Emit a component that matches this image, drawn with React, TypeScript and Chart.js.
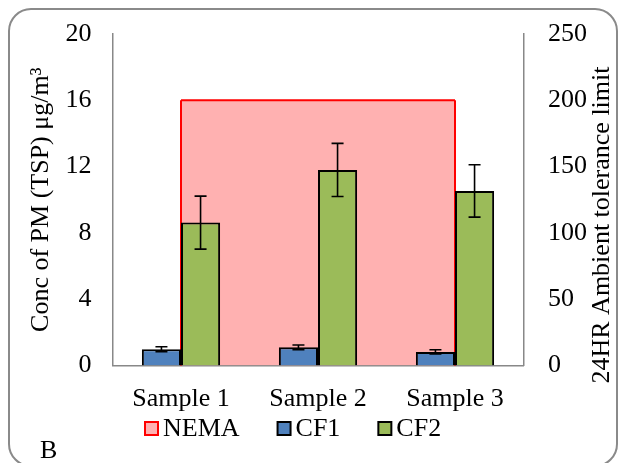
import React, { useEffect, useRef } from "react";
import { Chart, registerables } from "chart.js";

Chart.register(...registerables);

// ---- data ----
const categories = ["Sample 1", "Sample 2", "Sample 3"];
const nemaLimit = [200, 200, 200];
const cf1Values = [0.98, 1.1, 0.82];
const cf1Errors = [0.15, 0.14, 0.13];
const cf2Values = [8.62, 11.8, 10.53];
const cf2Errors = [1.6, 1.6, 1.58];
const leftTicks = [0, 4, 8, 12, 16, 20];
const rightTicks = [0, 50, 100, 150, 200, 250];
const leftTitle = "Conc of PM (TSP) μg/m³";
const rightTitle = "24HR Ambient tolerance limit";
const panelLabel = "B";

const FONT = "'Liberation Serif', 'Times New Roman', serif";
const errorMap: Record<string, number[]> = { CF1: cf1Errors, CF2: cf2Errors };

const areaEdges = {
  id: "areaEdges",
  afterDatasetDraw(chart: any, args: any) {
    const ds = chart.data.datasets[args.index];
    if (ds.label !== "NEMA") return;
    const pts = args.meta.data;
    if (!pts.length) return;
    const scale = chart.scales[args.meta.yAxisID];
    const y0 = scale.getPixelForValue(0);
    const ctx = chart.ctx;
    ctx.save();
    ctx.strokeStyle = ds.borderColor;
    ctx.lineWidth = ds.borderWidth;
    ctx.beginPath();
    const a = pts[0];
    const b = pts[pts.length - 1];
    ctx.moveTo(a.x, a.y);
    ctx.lineTo(a.x, y0);
    ctx.moveTo(b.x, b.y);
    ctx.lineTo(b.x, y0);
    ctx.stroke();
    ctx.restore();
  },
};

const errorBars = {
  id: "errorBars",
  afterDatasetsDraw(chart: any) {
    const ctx = chart.ctx;
    chart.data.datasets.forEach((ds: any, i: number) => {
      const errs = errorMap[ds.label];
      if (!errs) return;
      const meta = chart.getDatasetMeta(i);
      const scale = chart.scales[meta.yAxisID];
      ctx.save();
      ctx.strokeStyle = "#000";
      ctx.lineWidth = 1.6;
      meta.data.forEach((bar: any, j: number) => {
        const v = ds.data[j];
        const e = errs[j];
        const x = bar.x;
        const yt = scale.getPixelForValue(v + e);
        const yb = scale.getPixelForValue(v - e);
        ctx.beginPath();
        ctx.moveTo(x, yt);
        ctx.lineTo(x, yb);
        ctx.moveTo(x - 6, yt);
        ctx.lineTo(x + 6, yt);
        ctx.moveTo(x - 6, yb);
        ctx.lineTo(x + 6, yb);
        ctx.stroke();
      });
      ctx.restore();
    });
  },
};

const decorations = {
  id: "decorations",
  afterDraw(chart: any) {
    const ctx = chart.ctx;
    ctx.save();
    // outer rounded frame
    ctx.strokeStyle = "#8a8a8a";
    ctx.lineWidth = 2;
    ctx.beginPath();
    (ctx as any).roundRect(9, 9, 608, 457, 22);
    ctx.stroke();

    // right axis title
    ctx.fillStyle = "#000";
    ctx.font = `26px ${FONT}`;
    ctx.save();
    ctx.translate(602, 225);
    ctx.rotate(-Math.PI / 2);
    ctx.textAlign = "center";
    ctx.textBaseline = "middle";
    ctx.fillText(rightTitle, 0, 0);
    ctx.restore();

    // panel label
    ctx.textAlign = "left";
    ctx.textBaseline = "alphabetic";
    ctx.fillText(panelLabel, 40, 458);

    // legend
    let x = 144;
    const baseline = 436;
    chart.data.datasets.forEach((ds: any) => {
      ctx.fillStyle = ds.backgroundColor;
      ctx.fillRect(x + 1, 422, 13, 13);
      ctx.strokeStyle = ds.label === "NEMA" ? ds.borderColor : "#000";
      ctx.lineWidth = 2;
      ctx.strokeRect(x + 1, 422, 13, 13);
      ctx.fillStyle = "#000";
      ctx.fillText(ds.label, x + 19, baseline);
      const w = ctx.measureText(ds.label).width;
      x = x + 19 + w + 37;
    });
    ctx.restore();
  },
};

const noPad = (s: any) => {
  s.paddingTop = 0;
  s.paddingBottom = 0;
  s.paddingLeft = 0;
  s.paddingRight = 0;
};

export default function App() {
  const ref = useRef<HTMLCanvasElement | null>(null);

  useEffect(() => {
    document.body.style.margin = "0";
    if (!ref.current) return;
    const chart = new Chart(ref.current, {
      type: "bar",
      data: {
        labels: categories,
        datasets: [
          {
            type: "line",
            label: "NEMA",
            data: nemaLimit,
            yAxisID: "y1",
            borderColor: "#ff0000",
            borderWidth: 2,
            backgroundColor: "#ffb1b1",
            fill: "origin",
            pointRadius: 0,
            tension: 0,
            order: 2,
          } as any,
          {
            type: "bar",
            label: "CF1",
            data: cf1Values,
            yAxisID: "y",
            backgroundColor: "#4f81bd",
            borderColor: "#000",
            borderWidth: 2,
            order: 1,
          },
          {
            type: "bar",
            label: "CF2",
            data: cf2Values,
            yAxisID: "y",
            backgroundColor: "#9bbb59",
            borderColor: "#000",
            borderWidth: 2,
            order: 1,
          },
        ],
      },
      options: {
        animation: false,
        responsive: false,
        devicePixelRatio: 1,
        categoryPercentage: 0.571,
        barPercentage: 1,
        layout: { padding: { top: 34, left: 0, right: 0, bottom: 0 } },
        plugins: {
          legend: { display: false },
          tooltip: { enabled: false },
        },
        scales: {
          x: {
            grid: { display: false, drawTicks: false },
            border: { display: true, color: "#888", width: 1.5 },
            ticks: {
              font: { family: FONT, size: 26 },
              color: "#000",
              padding: 18,
              maxRotation: 0,
              autoSkip: false,
            },
            afterFit: (s: any) => {
              noPad(s);
              s.height = 97.5;
            },
          },
          y: {
            position: "left",
            min: 0,
            max: 20,
            grid: { display: false, drawTicks: false },
            border: { display: true, color: "#888", width: 1.5 },
            afterBuildTicks: (s: any) => {
              s.ticks = leftTicks.map((v) => ({ value: v }));
            },
            ticks: {
              font: { family: FONT, size: 26 },
              color: "#000",
              padding: 21,
            },
            title: {
              display: true,
              text: leftTitle,
              font: { family: FONT, size: 26 },
              color: "#000",
              padding: { top: 26, bottom: 0 },
            },
            afterFit: (s: any) => {
              noPad(s);
              s.width = 112.5;
            },
          },
          y1: {
            position: "right",
            min: 0,
            max: 250,
            grid: { display: false, drawTicks: false },
            border: { display: true, color: "#888", width: 1.5 },
            afterBuildTicks: (s: any) => {
              s.ticks = rightTicks.map((v) => ({ value: v }));
            },
            ticks: {
              font: { family: FONT, size: 26 },
              color: "#000",
              padding: 24.5,
            },
            afterFit: (s: any) => {
              noPad(s);
              s.width = 96.5;
            },
          },
        },
      },
      plugins: [areaEdges, errorBars, decorations],
    });
    return () => chart.destroy();
  }, []);

  return (
    <div style={{ width: 620, height: 463, position: "relative", overflow: "hidden", background: "#fff" }}>
      <canvas ref={ref} width={620} height={463} style={{ display: "block", width: 620, height: 463 }} />
    </div>
  );
}
